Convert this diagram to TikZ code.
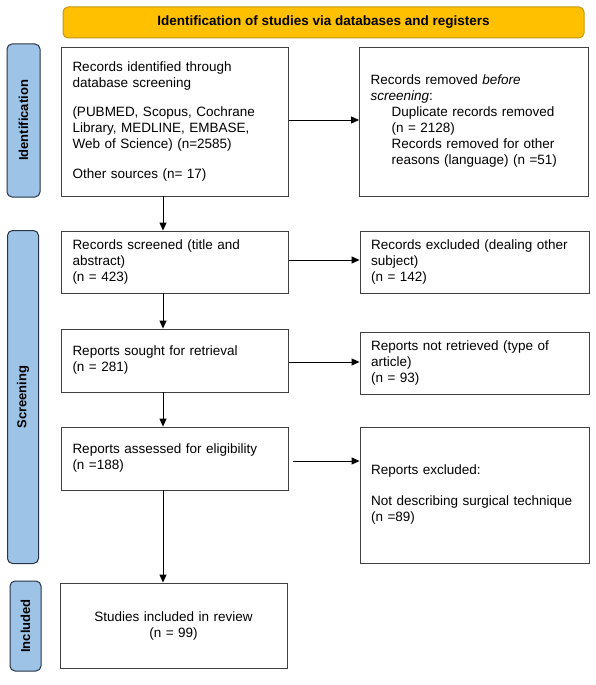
\documentclass[tikz,border=0pt]{standalone}
\usepackage{fontspec}
\setmainfont{Liberation Sans}
\usepackage{tikz}
\usetikzlibrary{arrows.meta}

\begin{document}
\begin{tikzpicture}[x=1pt,y=1pt,
  box/.style={draw={rgb:black,3;white,1}, line width=0.9pt, fill=white, text width=205pt, inner xsep=11pt, inner ysep=0pt, align=left, font=\fontsize{13.5}{16}\selectfont},
  rbox/.style={box, text width=207pt},
  phase/.style={draw={rgb,255:red,40;green,52;blue,70}, line width=1pt, fill={rgb,255:red,157;green,195;blue,230}, rounded corners=5pt, rotate=90, inner sep=0pt, font=\bfseries\fontsize{13}{15}\selectfont},
  banner/.style={draw={rgb,255:red,196;green,150;blue,20}, line width=1pt, fill={rgb,255:red,255;green,192;blue,0}, rounded corners=5pt, inner sep=0pt, font=\bfseries\fontsize{13.5}{15}\selectfont},
  flow/.style={-{Triangle[length=8pt,width=7pt]}, line width=0.9pt}]
\useasboundingbox (0,0) rectangle (595,-685);
\draw (323.5,-22.5) node[banner, minimum width=521, minimum height=31] (top) {Identification of studies via databases and registers}
(23.5,-120.5) node[phase, minimum width=153, minimum height=33] (idf) {Identification}
(23,-397) node[phase, minimum width=333, minimum height=31] (scrn) {Screening}
(25.5,-626) node[phase, minimum width=90, minimum height=31] (incd) {Included};
% left column
\draw (175,-121.5) node[box, minimum height=149] (found) {Records identified through\\database screening\\[13pt]
(PUBMED, Scopus, Cochrane\\Library, MEDLINE, EMBASE,\\Web of Science) (n=2585)\\[14pt]Other sources (n= 17)}
(175,-262) node[box, minimum height=62] (screened) {Records screened (title and\\abstract)\\(n = 423)}
(175,-360.5) node[box, minimum height=63] (sought) {Reports sought for retrieval\\(n = 281)}
(175,-458.5) node[box, minimum height=63] (assessed) {Reports assessed for eligibility\\(n =188)}
(173.5,-625.5) node[box, align=center, minimum height=85] (included) {Studies included in review\\(n = 99)};
% right column
\draw (474,-121.5) node[rbox, minimum height=149] (removed) {Records removed \textit{before}\\\textit{screening}:\\
\hspace*{21pt}Duplicate records removed\\\hspace*{21pt}(n = 2128)\\\hspace*{21pt}Records removed for other\\\hspace*{21pt}reasons (language) (n =51)}
(474.5,-262) node[rbox, minimum height=62] (excluded) {Records excluded (dealing other\\subject)\\(n = 142)}
(474.5,-363) node[rbox, minimum height=62] (notret) {Reports not retrieved (type of\\article)\\(n = 93)}
(474.5,-495) node[rbox, minimum height=136] (repexcl) {Reports excluded:\\[15pt]Not describing surgical technique\\(n =89)\\[13pt]};
%vertical
\coordinate (spine) at (163,0);
\draw [flow] (found.south -| spine) -- (screened.north -| spine);
\draw [flow] (screened.south -| spine) -- (sought.north -| spine);
\draw [flow] (sought.south -| spine) -- (assessed.north -| spine);
\draw [flow] (assessed.south -| spine) -- (included.north -| spine);
%horizontal
\draw [flow] ([yshift=1.5pt]found.east) -- ([yshift=1.5pt]found.east -| removed.west);
\draw [flow] ([yshift=2pt]screened.east) -- ([yshift=2pt]screened.east -| excluded.west);
\draw [flow] ([yshift=-1.5pt]sought.east) -- ([yshift=-1.5pt]sought.east -| notret.west);
\draw [flow, shorten <=4pt] ([yshift=-2.5pt]assessed.east) -- ([yshift=-2.5pt]assessed.east -| repexcl.west);
\end{tikzpicture}
\end{document}
